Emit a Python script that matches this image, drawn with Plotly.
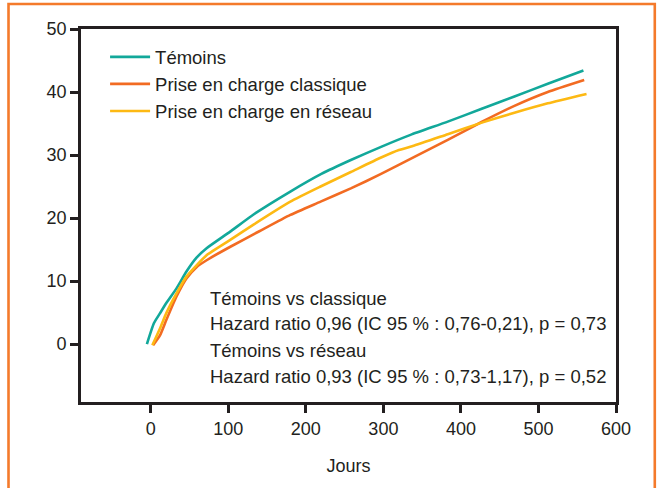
import plotly.graph_objects as go

# ---- data ----
temoins_x = [-5, 4, 12, 20, 33, 46, 59, 72, 102, 133, 180, 220, 258, 297, 335, 383, 426, 469, 512, 558]
temoins_y = [0, 3.3, 4.9, 6.5, 8.8, 11.5, 13.7, 15.2, 17.8, 20.6, 24.2, 27.0, 29.2, 31.3, 33.2, 35.3, 37.3, 39.3, 41.3, 43.4]

classique_x = [3, 12, 20, 33, 46, 59, 72, 102, 140, 180, 219, 258, 297, 340, 383, 426, 469, 512, 559]
classique_y = [-0.2, 1.4, 3.8, 7.5, 10.4, 12.2, 13.3, 15.4, 17.9, 20.5, 22.6, 24.7, 27.0, 29.7, 32.4, 35.2, 37.8, 40.0, 41.9]

reseau_x = [2, 12, 20, 33, 46, 59, 72, 102, 133, 180, 219, 258, 297, 320, 340, 383, 426, 469, 512, 562]
reseau_y = [-0.2, 2.5, 4.9, 8.0, 10.7, 12.5, 14.1, 16.5, 19.0, 22.6, 25.0, 27.3, 29.6, 30.8, 31.5, 33.3, 35.1, 36.7, 38.2, 39.7]

series_names = ["Témoins", "Prise en charge classique", "Prise en charge en réseau"]
series_colors = ["#12a89a", "#f26b22", "#fdb913"]

x_ticks = [0, 100, 200, 300, 400, 500, 600]
y_ticks = [0, 10, 20, 30, 40, 50]

stat_lines = [
    "Témoins vs classique",
    "Hazard ratio 0,96 (IC 95 % : 0,76-0,21), p = 0,73",
    "Témoins vs réseau",
    "Hazard ratio 0,93 (IC 95 % : 0,73-1,17), p = 0,52",
]

INK = "#231f20"
FONT = "Liberation Sans, Arial, sans-serif"
FS = 18
FS_TXT = 18.5

fig = go.Figure()
for i, (xs, ys) in enumerate([(temoins_x, temoins_y), (classique_x, classique_y), (reseau_x, reseau_y)]):
    fig.add_trace(go.Scatter(
        x=xs, y=ys, mode="lines", name=series_names[i],
        line=dict(color=series_colors[i], width=2.6, shape="spline", smoothing=0.5),
        legendgroup=f"g{i}",
    ))

# stats text block
stat_y = [7.25, 3.3, -0.95, -5.2]
for txt, yy in zip(stat_lines, stat_y):
    fig.add_annotation(x=73.4, y=yy, xref="x", yref="y", text=txt, showarrow=False,
                       xanchor="left", yanchor="middle",
                       font=dict(size=FS_TXT, color=INK, family=FONT))

# orange outer frame
fig.add_shape(type="rect", xref="paper", yref="paper",
              x0=-0.1355, x1=1.0725, y0=-0.25, y1=1.067,
              line=dict(color="#f47a2b", width=2.6), fillcolor="rgba(0,0,0,0)", layer="below")

axis_common = dict(
    showgrid=False, zeroline=False, showline=True, linecolor=INK, linewidth=2.8,
    mirror=True, ticks="outside", ticklen=8, tickwidth=2.6, tickcolor=INK,
    tickfont=dict(size=FS, color=INK, family=FONT),
)

fig.update_layout(
    width=657, height=488,
    margin=dict(l=81, r=41, t=29, b=86),
    paper_bgcolor="white", plot_bgcolor="white",
    font=dict(family=FONT, color=INK, size=FS),
    xaxis=dict(range=[-90, 600], tickvals=x_ticks, **axis_common,
               title=dict(text="Jours", font=dict(size=FS, color=INK, family=FONT), standoff=22)),
    yaxis=dict(range=[-9.2, 50], tickvals=y_ticks, **axis_common),
    showlegend=True,
    legend=dict(x=0.045, y=0.975, xanchor="left", yanchor="top",
                bgcolor="rgba(0,0,0,0)", borderwidth=0,
                font=dict(size=FS_TXT, color=INK, family=FONT),
                tracegroupgap=0, itemwidth=40),
)

fig.write_html("out.html")
